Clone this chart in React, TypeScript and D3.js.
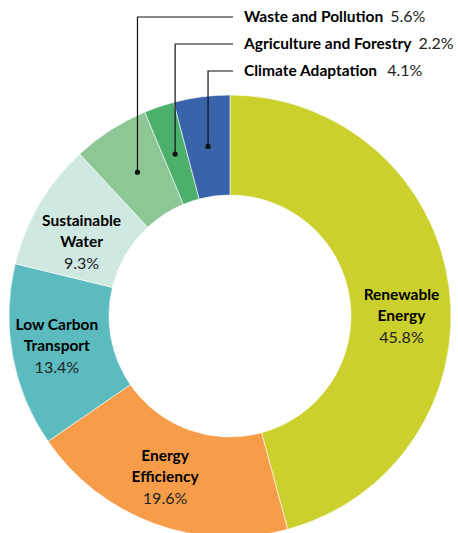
import React from 'react';
import * as d3 from 'd3';

const CATEGORIES = [
  'Renewable Energy',
  'Energy Efficiency',
  'Low Carbon Transport',
  'Sustainable Water',
  'Waste and Pollution',
  'Agriculture and Forestry',
  'Climate Adaptation',
];
const SHARES = [45.8, 19.6, 13.4, 9.3, 5.6, 2.2, 4.1];
const COLORS = ['#cbd02c', '#f79d4a', '#5bbbbf', '#cfe8e2', '#8dc795', '#4caf6c', '#3a64aa'];
// inside labels split into lines; null = labelled outside with a leader
const INSIDE_LINES: (string[] | null)[] = [
  ['Renewable', 'Energy'],
  ['Energy', 'Efficiency'],
  ['Low Carbon', 'Transport'],
  ['Sustainable', 'Water'],
  null,
  null,
  null,
];
// order of callouts at the top
const CALLOUT_ORDER = [4, 5, 6];

const W = 458;
const H = 533;
const CX = 230;
const CY = 316;
const R_OUT = 221;
const R_IN = 121;
const FONT = "Lato, 'Open Sans', sans-serif";

// manual nudges for inside label blocks
const NUDGE: Record<number, [number, number]> = {
  0: [2, 22],
  1: [-6, 0],
  2: [-5, -1],
  3: [-1, 13],
};

export default function App() {
  const idx = d3.range(SHARES.length);
  const pie = d3.pie<number>().sort(null).value(i => SHARES[i]);
  const arcs = pie(idx);
  const arc = d3.arc<d3.PieArcDatum<number>>().innerRadius(R_IN).outerRadius(R_OUT);

  return (
    <svg width={W} height={H} style={{ position: 'absolute', left: 0, top: 0, background: '#fff' }}>
      <g transform={`translate(${CX},${CY})`}>
        {arcs.map(a => (
          <path key={a.data} d={arc(a) || ''} fill={COLORS[a.data]} stroke="#fff" strokeWidth={0.6} />
        ))}
        {arcs.map(a => {
          const lines = INSIDE_LINES[a.data];
          if (!lines) return null;
          const [x, y] = arc.centroid(a);
          const [dx, dy] = NUDGE[a.data] || [0, 0];
          const lx = x + dx;
          const ly = y + dy;
          return (
            <text key={'l' + a.data} x={lx} y={ly} textAnchor="middle" fontFamily={FONT} fontSize={15.5}>
              <tspan x={lx} y={ly - 16} fontWeight={700} fill="#000">{lines[0]}</tspan>
              <tspan x={lx} y={ly + 5} fontWeight={700} fill="#000">{lines[1]}</tspan>
              <tspan x={lx} y={ly + 27} fontWeight={400} fontSize={16} fill="#222">{SHARES[a.data].toFixed(1)}%</tspan>
            </text>
          );
        })}
      </g>
      {CALLOUT_ORDER.map((i, k) => {
        const a = arcs[i];
        const [x, y] = arc.centroid(a);
        const px = CX + x;
        const py = CY + y;
        const ty = 17 + k * 27;
        return (
          <g key={'c' + i}>
            <path d={`M${px},${py}V${ty}H233`} fill="none" stroke="#111" strokeWidth={1.2} />
            <circle cx={px} cy={py} r={2.6} fill="#111" />
            <text x={244} y={ty + 5} fontFamily={FONT} fontSize={15.5}>
              <tspan fontWeight={700} fill="#000">{CATEGORIES[i]}</tspan>
              <tspan dx={i === 6 ? 10 : 7} fontWeight={400} fontSize={16} fill="#222">{SHARES[i].toFixed(1)}%</tspan>
            </text>
          </g>
        );
      })}
    </svg>
  );
}
